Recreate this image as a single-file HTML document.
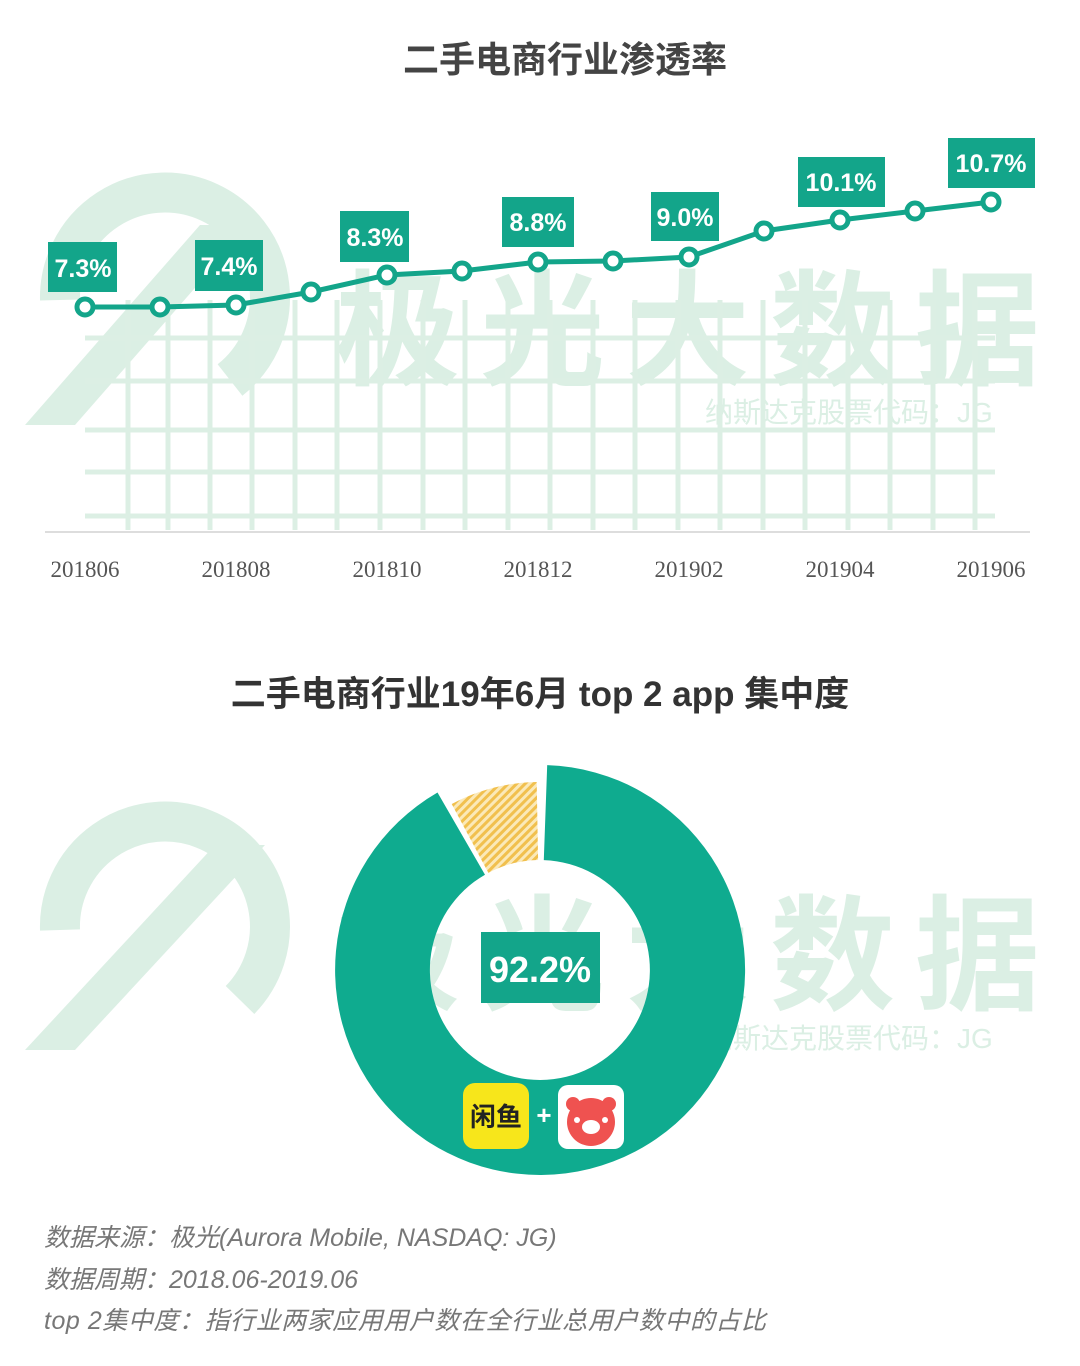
<!DOCTYPE html>
<html><head><meta charset="utf-8"><style>
body{margin:0;background:#fff;}
svg{display:block;font-family:"Liberation Sans","Noto Sans CJK SC",sans-serif;}
</style></head><body>
<svg width="1080" height="1366" viewBox="0 0 1080 1366" xmlns="http://www.w3.org/2000/svg">
<defs>
<pattern id="h" width="6" height="6" patternUnits="userSpaceOnUse" patternTransform="rotate(45)">
<rect width="6" height="6" fill="#fbe9b8"/><rect width="3" height="6" fill="#f1c04e"/></pattern>
</defs>
<rect width="1080" height="1366" fill="#fff"/>
<!-- watermark top -->
<g fill="#dbefe4">
<path d="M25 425 L200 225 L250 225 L75 425 Z"/>
<path d="M60 300 A105 105 0 1 1 230 380" fill="none" stroke="#dbefe4" stroke-width="40"/>
<text x="335" y="375" font-size="125" font-weight="bold" letter-spacing="20">极光大数据</text>
<text x="705" y="422" font-size="28">纳斯达克股票代码：JG</text>
</g>
<g stroke="#dcefe4" stroke-width="5">
<line x1="85" y1="338" x2="995" y2="338"/><line x1="85" y1="381" x2="995" y2="381"/>
<line x1="85" y1="430" x2="995" y2="430"/><line x1="85" y1="472" x2="995" y2="472"/>
<line x1="85" y1="516" x2="995" y2="516"/>
<line x1="128" y1="300" x2="128" y2="530"/><line x1="168" y1="300" x2="168" y2="530"/><line x1="210" y1="300" x2="210" y2="530"/><line x1="252" y1="300" x2="252" y2="530"/><line x1="295" y1="300" x2="295" y2="530"/><line x1="337" y1="300" x2="337" y2="530"/><line x1="380" y1="300" x2="380" y2="530"/><line x1="423" y1="300" x2="423" y2="530"/><line x1="465" y1="300" x2="465" y2="530"/><line x1="508" y1="300" x2="508" y2="530"/><line x1="550" y1="300" x2="550" y2="530"/><line x1="593" y1="300" x2="593" y2="530"/><line x1="635" y1="300" x2="635" y2="530"/><line x1="678" y1="300" x2="678" y2="530"/><line x1="720" y1="300" x2="720" y2="530"/><line x1="763" y1="300" x2="763" y2="530"/><line x1="805" y1="300" x2="805" y2="530"/><line x1="848" y1="300" x2="848" y2="530"/><line x1="890" y1="300" x2="890" y2="530"/><line x1="933" y1="300" x2="933" y2="530"/><line x1="975" y1="300" x2="975" y2="530"/>
</g>
<text x="565" y="72" font-size="36" font-weight="bold" fill="#444" text-anchor="middle">二手电商行业渗透率</text>
<line x1="45" y1="532" x2="1030" y2="532" stroke="#ddd" stroke-width="2"/>
<g font-size="23" fill="#555" text-anchor="middle" font-family="Liberation Serif, serif">
<text x="85" y="577">201806</text><text x="236" y="577">201808</text><text x="387" y="577">201810</text><text x="538" y="577">201812</text><text x="689" y="577">201902</text><text x="840" y="577">201904</text><text x="991" y="577">201906</text>
</g>
<polyline fill="none" stroke="#13a58a" stroke-width="5" points="85,307 160,307 236,305 311,292 387,275 462,271 538,262 613,261 689,257 764,231 840,220 915,211 991,202"/>
<g fill="#fff" stroke="#13a58a" stroke-width="5">
<circle cx="85" cy="307" r="8"/><circle cx="160" cy="307" r="8"/><circle cx="236" cy="305" r="8"/><circle cx="311" cy="292" r="8"/><circle cx="387" cy="275" r="8"/><circle cx="462" cy="271" r="8"/><circle cx="538" cy="262" r="8"/><circle cx="613" cy="261" r="8"/><circle cx="689" cy="257" r="8"/><circle cx="764" cy="231" r="8"/><circle cx="840" cy="220" r="8"/><circle cx="915" cy="211" r="8"/><circle cx="991" cy="202" r="8"/>
</g>
<g fill="#13a58a">
<rect x="48" y="242" width="69" height="50"/><rect x="195" y="240" width="68" height="51"/><rect x="340" y="211" width="69" height="51"/><rect x="502" y="197" width="72" height="50"/><rect x="651" y="192" width="68" height="49"/><rect x="798" y="157" width="87" height="50"/><rect x="948" y="138" width="87" height="50"/>
</g>
<g fill="#fff" font-size="25" font-weight="bold" text-anchor="middle">
<text x="83" y="277">7.3%</text><text x="229" y="275">7.4%</text><text x="375" y="246">8.3%</text><text x="538" y="231">8.8%</text><text x="685" y="226">9.0%</text><text x="841" y="191">10.1%</text><text x="991" y="172">10.7%</text>
</g>
<!-- bottom -->
<text x="540" y="706" font-size="35" font-weight="bold" fill="#333" text-anchor="middle">二手电商行业19年6月 top 2 app 集中度</text>
<g fill="#dbefe4">
<path d="M25 1050 L215 845 L265 845 L75 1050 Z"/>
<path d="M60 930 A105 105 0 1 1 240 1000" fill="none" stroke="#dbefe4" stroke-width="40"/>
<text x="335" y="1000" font-size="125" font-weight="bold" letter-spacing="20">极光大数据</text>
<text x="705" y="1048" font-size="28">纳斯达克股票代码：JG</text>
</g>
<path d="M547.2,765.1 A205,205 0 1 1 437.5,792.5 L485,874.7 A110,110 0 1 0 543.8,860.1 Z" fill="#0fab8f"/>
<path d="M536.7,782 L538.1,860 A110,110 0 0 0 488.4,872.9 L451.7,804 A188,188 0 0 1 536.7,782 Z" fill="url(#h)"/>
<rect x="481" y="932" width="119" height="71" fill="#13a58a"/>
<text x="540" y="982" font-size="36" font-weight="bold" fill="#fff" text-anchor="middle">92.2%</text>
<rect x="463" y="1083" width="66" height="66" rx="12" fill="#f7e61b"/>
<text x="496" y="1126" font-size="26" font-weight="bold" fill="#222" text-anchor="middle">闲鱼</text>
<text x="544" y="1124" font-size="26" font-weight="bold" fill="#fff" text-anchor="middle">+</text>
<rect x="558" y="1085" width="66" height="64" rx="10" fill="#fff"/>
<circle cx="591" cy="1122" r="24" fill="#ef5250"/>
<circle cx="573" cy="1104" r="7" fill="#ef5250"/><circle cx="609" cy="1104" r="7" fill="#ef5250"/>
<ellipse cx="591" cy="1127" rx="9" ry="7" fill="#fff"/>
<circle cx="577" cy="1120" r="3" fill="#fff"/><circle cx="605" cy="1120" r="3" fill="#fff"/>
<g font-size="25" fill="#777" font-style="italic">
<text x="44" y="1246">数据来源：极光(Aurora Mobile, NASDAQ: JG)</text>
<text x="44" y="1288">数据周期：2018.06-2019.06</text>
<text x="44" y="1329" textLength="722">top 2集中度：指行业两家应用用户数在全行业总用户数中的占比</text>
</g>
</svg>
</body></html>
